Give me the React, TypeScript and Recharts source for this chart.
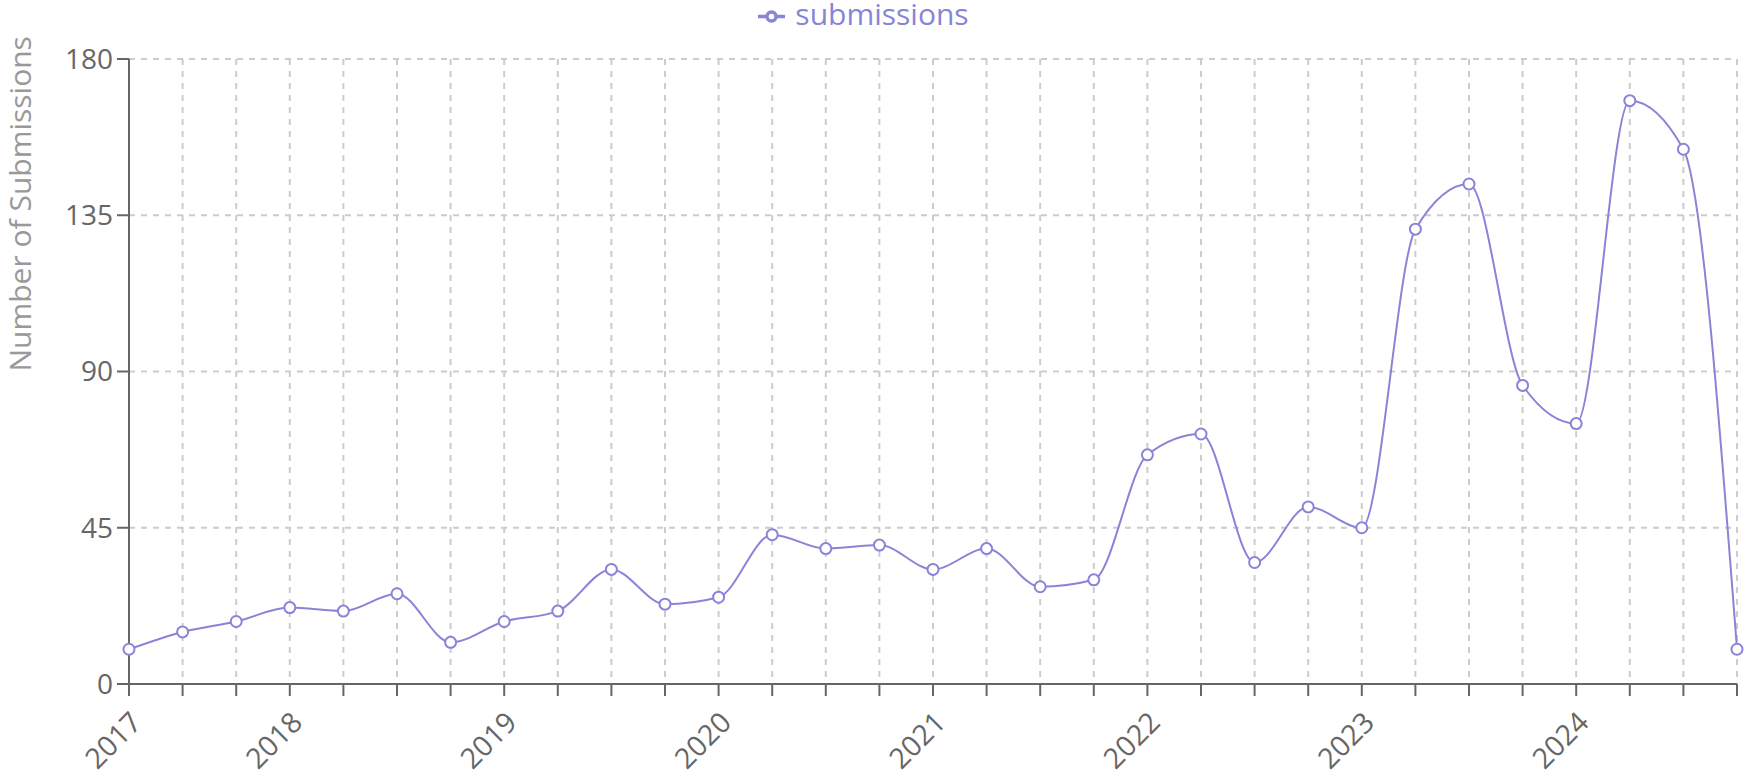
import React from 'react';
import { LineChart, Line, XAxis, YAxis, CartesianGrid, Legend } from 'recharts';

const categories = [
  '2017 Q2', '2017 Q3', '2017 Q4',
  '2018 Q1', '2018 Q2', '2018 Q3', '2018 Q4',
  '2019 Q1', '2019 Q2', '2019 Q3', '2019 Q4',
  '2020 Q1', '2020 Q2', '2020 Q3', '2020 Q4',
  '2021 Q1', '2021 Q2', '2021 Q3', '2021 Q4',
  '2022 Q1', '2022 Q2', '2022 Q3', '2022 Q4',
  '2023 Q1', '2023 Q2', '2023 Q3', '2023 Q4',
  '2024 Q1', '2024 Q2', '2024 Q3', '2024 Q4',
];

const submissions = [
  10, 15, 18,
  22, 21, 26, 12,
  18, 21, 33, 23,
  25, 43, 39, 40,
  33, 39, 28, 30,
  66, 72, 35, 51,
  45, 131, 144, 86,
  75, 168, 154, 10,
];

const tickLabels = [
  '2017', '', '',
  '2018', '', '', '',
  '2019', '', '', '',
  '2020', '', '', '',
  '2021', '', '', '',
  '2022', '', '', '',
  '2023', '', '', '',
  '2024', '', '', '',
];

const yTicks = [0, 45, 90, 135, 180];

const FONT = '"Open Sans", "Noto Sans", sans-serif';

export default function App() {
  const data = categories.map((c, i) => ({ quarter: c, submissions: submissions[i] }));
  return (
    <div style={{ position: 'absolute', left: 0, top: 0, width: 1746, height: 782, background: '#fff', fontFamily: FONT }}>
      <LineChart width={1746} height={782} data={data} margin={{ top: 29, right: 9, bottom: 0, left: 0 }}>
        <CartesianGrid strokeDasharray="6 6" stroke="#ccc" strokeWidth={2} />
        <XAxis
          dataKey="quarter"
          interval={0}
          tickFormatter={(v: string) => tickLabels[categories.indexOf(v)]}
          height={98}
          angle={-45}
          textAnchor="end"
          tick={{ fill: '#666', fontSize: 28.5, fontFamily: FONT }}
          stroke="#666"
          strokeWidth={2}
          tickSize={12}
          tickMargin={14}
        />
        <YAxis
          domain={[0, 180]}
          ticks={yTicks}
          width={129}
          tick={{ fill: '#666', fontSize: 28, fontFamily: FONT }}
          stroke="#666"
          strokeWidth={2}
          tickSize={12}
          tickMargin={4}
          label={{
            value: 'Number of Submissions',
            angle: -90,
            position: 'insideLeft',
            offset: 20,
            style: { fill: '#999', fontSize: 30, fontFamily: FONT },
          }}
        />
        <Legend
          verticalAlign="top"
          height={30}
          iconSize={27}
          formatter={(value: string) => <span style={{ marginLeft: 6 }}>{value}</span>}
          wrapperStyle={{ top: 0, fontSize: 30, fontFamily: FONT, lineHeight: '28px' }}
        />
        <Line
          type="monotone"
          dataKey="submissions"
          stroke="#8884d8"
          strokeWidth={2}
          dot={{ r: 5.5, fill: '#fff', stroke: '#8884d8', strokeWidth: 2 }}
          isAnimationActive={false}
        />
      </LineChart>
    </div>
  );
}
